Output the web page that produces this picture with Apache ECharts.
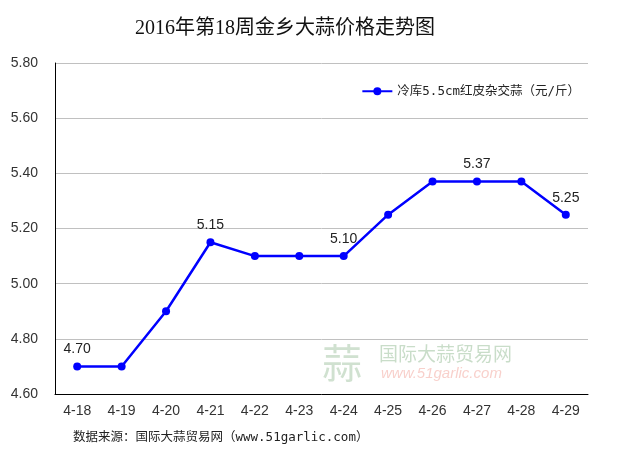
<!DOCTYPE html>
<html>
<head>
<meta charset="utf-8">
<script src="https://cdn.jsdelivr.net/npm/echarts@6/dist/echarts.min.js"></script>
<style>
  html, body { margin: 0; padding: 0; background: #fff; }
  #chart { width: 629px; height: 452px; }
</style>
</head>
<body>
<div id="chart"></div>
<script>
// 2016年第18周金乡大蒜价格
const days = ['4-18', '4-19', '4-20', '4-21', '4-22', '4-23', '4-24', '4-25', '4-26', '4-27', '4-28', '4-29'];
const prices = [4.70, 4.70, 4.90, 5.15, 5.10, 5.10, 5.10, 5.25, 5.37, 5.37, 5.37, 5.25];
const labelled = [0, 3, 6, 9, 11];

const chart = echarts.init(document.getElementById('chart'));

chart.setOption({
    backgroundColor: '#fff',
    animation: false,
    title: {
        text: '2016年第18周金乡大蒜价格走势图',
        left: 280,
        textAlign: 'center',
        top: 14,
        textStyle: {
            fontFamily: 'Liberation Serif, Noto Sans CJK SC',
            fontSize: 20,
            fontWeight: 'normal',
            color: '#111'
        }
    },
    legend: {
        right: 44,
        top: 80,
        itemWidth: 30,
        itemHeight: 10,
        itemGap: 4,
        textStyle: { fontFamily: 'DejaVu Sans Mono, Noto Sans CJK SC', fontSize: 12.5, color: '#222' },
        data: ['冷库5.5cm红皮杂交蒜（元/斤）']
    },
    grid: { left: 55, right: 41, top: 63, bottom: 58 },
    xAxis: {
        type: 'category',
        data: days,
        axisLine: { lineStyle: { color: '#000', width: 1 } },
        axisTick: { show: false },
        axisLabel: { color: '#333', fontFamily: 'Arial, Liberation Sans', fontSize: 14, margin: 10 }
    },
    yAxis: {
        type: 'value',
        min: 4.6,
        max: 5.8,
        interval: 0.2,
        axisLine: { show: true, lineStyle: { color: '#000', width: 1 } },
        axisTick: { show: false },
        axisLabel: {
            color: '#333',
            fontFamily: 'Arial, Liberation Sans',
            fontSize: 14,
            margin: 17,
            formatter: v => v.toFixed(2)
        },
        splitLine: { lineStyle: { color: '#c0c0c0' } }
    },
    graphic: [
        {
            type: 'text', left: 322, top: 343,
            style: { text: '蒜', font: '40px "Noto Sans CJK SC"', fill: 'rgba(120,170,120,0.35)' }
        },
        {
            type: 'text', left: 379, top: 344,
            style: { text: '国际大蒜贸易网', font: '19px "Noto Sans CJK SC"', fill: 'rgba(120,170,120,0.4)' }
        },
        {
            type: 'text', left: 381, top: 366,
            style: { text: 'www.51garlic.com', font: 'italic 15px "Liberation Sans"', fill: 'rgba(240,150,140,0.45)' }
        },
        {
            type: 'text', left: 73, top: 431,
            style: { text: '数据来源：国际大蒜贸易网（www.51garlic.com）', font: '12.5px "DejaVu Sans Mono", "Noto Sans CJK SC"', fill: '#222' }
        }
    ],
    series: [{
        name: '冷库5.5cm红皮杂交蒜（元/斤）',
        type: 'line',
        data: prices.map((v, i) => ({
            value: v,
            label: { show: labelled.includes(i) }
        })),
        color: '#0000ff',
        symbol: 'circle',
        symbolSize: 8,
        lineStyle: { width: 2.5, color: '#0000ff' },
        itemStyle: { color: '#0000ff' },
        label: {
            position: 'top',
            distance: 6,
            color: '#222',
            fontFamily: 'Arial, Liberation Sans',
            fontSize: 14,
            formatter: p => p.value.toFixed(2)
        }
    }]
});
</script>
</body>
</html>
